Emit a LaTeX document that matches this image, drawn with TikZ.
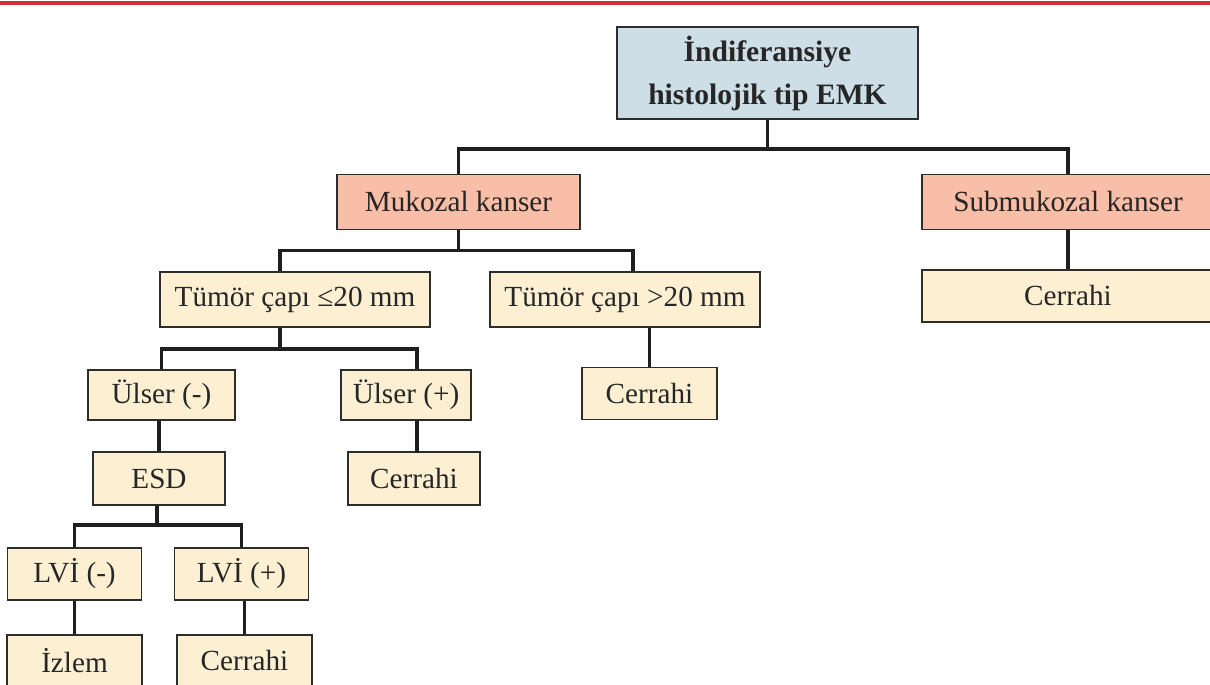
\documentclass[tikz,border=0pt]{standalone}
\usepackage{fontspec}
\setmainfont{Liberation Serif}

\definecolor{rootfill}{RGB}{206,222,230}
\definecolor{cancerfill}{RGB}{249,190,168}
\definecolor{leaffill}{RGB}{253,240,210}
\definecolor{framecol}{RGB}{45,45,45}
\definecolor{topred}{RGB}{208,48,56}

\tikzset{
  box/.style={draw=framecol, line width=0.9pt, inner sep=0pt, text=black!85,
    font=\fontsize{14.6}{17}\selectfont, minimum height=26pt},
  rootbox/.style={box, fill=rootfill, align=center,
    font=\bfseries\fontsize{14.8}{21.5}\selectfont},
  cancer/.style={box, fill=cancerfill},
  leaf/.style={box, fill=leaffill},
  conn/.style={line width=1.9pt, draw=black!88},
}

\begin{document}
\begin{tikzpicture}[x=0.5pt,y=-0.5pt]
			\useasboundingbox (0,0) rectangle (1210,685);
			\clip (0,0) rectangle (1210,685);
			\fill[topred] (0,1) rectangle (1210,4.5);

			% root
			\node[rootbox, minimum width=150.5pt, minimum height=46pt] (root) at (767.5,73) {İndiferansiye\\histolojik tip EMK};

			% cancer type
			\node[cancer, minimum width=121.5pt, minimum height=27.5pt] (muk) at (458.5,202) {Mukozal kanser};
			\node[cancer, minimum width=146pt, minimum height=27.5pt] (submuk) at (1068,202) {Submukozal kanser};

			% tumour size
			\node[leaf, minimum width=135pt, minimum height=27.5pt] (small) at (295,299.5) {Tümör çapı ≤20 mm};
			\node[leaf, minimum width=135pt, minimum height=27.5pt] (large) at (625,299.5) {Tümör çapı >20 mm};
			\node[leaf, minimum width=146pt] (subop) at (1068,296) {Cerrahi};
			\node[leaf, minimum width=67.5pt] (largeop) at (649.5,393.5) {Cerrahi};

			% ulcer
			\node[leaf, minimum width=73.5pt, minimum height=25pt] (ulneg) at (161.5,395) {Ülser (-)};
			\node[leaf, minimum width=65pt, minimum height=25pt] (ulpos) at (406,395) {Ülser (+)};
			\node[leaf, minimum width=66pt, minimum height=26.5pt] (esd) at (159,478.5) {ESD};
			\node[leaf, minimum width=66pt, minimum height=26.5pt] (ulop) at (414,478.5) {Cerrahi};

			% LVI
			\node[leaf, minimum width=67pt] (lvineg) at (74.5,574) {LVİ (-)};
			\node[leaf, minimum width=67pt] (lvipos) at (241.5,574) {LVİ (+)};
			\node[leaf, minimum width=67.5pt] (izlem) at (74.5,661) {İzlem};
			\node[leaf, minimum width=67.5pt] (lviop) at (244.5,661) {Cerrahi};

			% root to cancer type
			\draw[conn] (root.south) -- ++(0,29) coordinate (j1);
			\draw[conn] (muk.north) |- (j1) -| (submuk.north);
			\draw[conn] (submuk.south) -- (subop.north);

			% mucosal to tumour size
			\draw[conn] (muk.south) -- ++(0,20) coordinate (j2);
			\draw[conn] ([xshift=-7.5pt]small.north) |- (j2) -| ([xshift=4pt]large.north);
			\draw[conn] (largeop.north) -- (largeop.north |- large.south);

			% small tumour to ulcer
			\draw[conn] ([xshift=-7.5pt]small.south) -- ++(0,21) coordinate (j3);
			\draw[conn] (ulneg.north) |- (j3) -| ([xshift=5.5pt]ulpos.north);
			\draw[conn] (esd.north) -- (esd.north |- ulneg.south);
			\draw[conn] ([xshift=5.5pt]ulpos.south) -- ++(0,32);

			% ESD to LVI
			\draw[conn] ([xshift=-1pt]esd.south) -- ++(0,19) coordinate (j4);
			\draw[conn] (lvineg.north) |- (j4) -| (lvipos.north);
			\draw[conn] (lvineg.south) -- (izlem.north);
			\draw[conn] (lviop.north) -- (lviop.north |- lvipos.south);
		\end{tikzpicture}
\end{document}
